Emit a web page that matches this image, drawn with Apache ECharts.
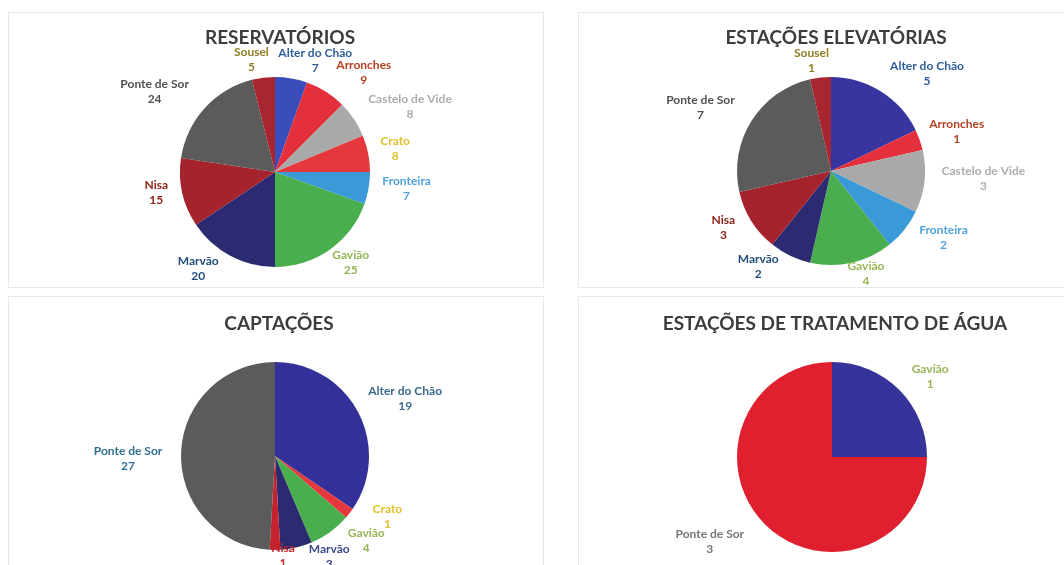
<!DOCTYPE html>
<html>
<head>
<meta charset="utf-8">
<script src="https://cdn.jsdelivr.net/npm/echarts@6/dist/echarts.min.js"></script>
<style>
  html, body { margin: 0; padding: 0; background: #ffffff; }
  #chart { width: 1064px; height: 565px; }
</style>
</head>
<body>
<div id="chart"></div>
<script>
// ---- Data: infrastructure counts per municipality ----
const resNames  = ['Alter do Chão', 'Arronches', 'Castelo de Vide', 'Crato', 'Fronteira', 'Gavião', 'Marvão', 'Nisa', 'Ponte de Sor', 'Sousel'];
const resValues = [7, 9, 8, 8, 7, 25, 20, 15, 24, 5];

const eleNames  = ['Alter do Chão', 'Arronches', 'Castelo de Vide', 'Fronteira', 'Gavião', 'Marvão', 'Nisa', 'Ponte de Sor', 'Sousel'];
const eleValues = [5, 1, 3, 2, 4, 2, 3, 7, 1];

const capNames  = ['Alter do Chão', 'Crato', 'Gavião', 'Marvão', 'Nisa', 'Ponte de Sor'];
const capValues = [19, 1, 4, 3, 1, 27];

const etaNames  = ['Gavião', 'Ponte de Sor'];
const etaValues = [1, 3];

const titles = ['RESERVATÓRIOS', 'ESTAÇÕES ELEVATÓRIAS', 'CAPTAÇÕES', 'ESTAÇÕES DE TRATAMENTO DE ÁGUA'];

// ---- Styling ----
const sliceColors = {
  'Alter do Chão': '#3a4dbb', 'Arronches': '#e3303c', 'Castelo de Vide': '#a9a9a9',
  'Crato': '#e5383d', 'Fronteira': '#3a9ad8', 'Gavião': '#4aae4e', 'Marvão': '#2c2b72',
  'Nisa': '#a5232c', 'Ponte de Sor': '#5b5b5b', 'Sousel': '#a8262f'
};
const labelColors = {
  'Alter do Chão': '#2f5f9a', 'Arronches': '#b2411f', 'Castelo de Vide': '#adadad',
  'Crato': '#e2c12a', 'Fronteira': '#4fa3dc', 'Gavião': '#98b556', 'Marvão': '#1f4e79',
  'Nisa': '#8e2416', 'Ponte de Sor': '#505050', 'Sousel': '#8f7d22'
};

// Panel geometry: pie centre / radius in px, and where each label sits relative to
// the rim point at the middle of its slice.
const panels = [
  { names: resNames, values: resValues, title: titles[0], titleX: 275, titleY: 23,
    center: [275, 172], radius: 95, colors: {},
    labelOffset: { 'Alter do Chão': [24, -18], 'Sousel': [-12, -18], 'Arronches': [38, -19],
      'Castelo de Vide': [56, -13], 'Crato': [27, -5], 'Fronteira': [38, 0], 'Gavião': [21, 13],
      'Marvão': [-32, 13], 'Nisa': [-26, 0], 'Ponte de Sor': [-50, -17] } },
  { names: eleNames, values: eleValues, title: titles[1], titleX: 831, titleY: 23,
    center: [831, 171], radius: 94, colors: { 'Alter do Chão': '#3835a0' },
    labelOffset: { 'Sousel': [-9, -17], 'Alter do Chão': [46, -18], 'Arronches': [37, -8],
      'Castelo de Vide': [59, -3], 'Fronteira': [39, 8], 'Gavião': [14, 11], 'Marvão': [-32, 11],
      'Nisa': [-28, 7], 'Ponte de Sor': [-51, -13] } },
  { names: capNames, values: capValues, title: titles[2], titleX: 274, titleY: 309,
    center: [275, 456], radius: 94, colors: { 'Alter do Chão': '#33309a', 'Nisa': '#c5222e' },
    labelColors: { 'Ponte de Sor': '#2f6f8f', 'Alter do Chão': '#3a6a8a', 'Nisa': '#c0282a', 'Marvão': '#3a4a8a' },
    labelOffset: { 'Alter do Chão': [47, -14], 'Crato': [38, 3], 'Gavião': [36, 9],
      'Marvão': [33, 9], 'Nisa': [8, 6], 'Ponte de Sor': [-53, 5] } },
  { names: etaNames, values: etaValues, title: titles[3], titleX: 830, titleY: 309,
    center: [832, 457], radius: 95, colors: { 'Gavião': '#36349a', 'Ponte de Sor': '#e01f2f' },
    labelColors: { 'Ponte de Sor': '#777777' },
    labelOffset: { 'Gavião': [31, -13], 'Ponte de Sor': [-55, 17] } }
];

const FONT = 'Lato, "Open Sans", sans-serif';

// Rim point at the middle of a slice (pie starts at 12 o'clock, clockwise)
function rimPoint(p, idx) {
  const total = p.values.reduce((a, b) => a + b, 0);
  let before = 0;
  for (let i = 0; i < idx; i++) before += p.values[i];
  const mid = (before + p.values[idx] / 2) / total * Math.PI * 2;
  return [p.center[0] + p.radius * Math.sin(mid), p.center[1] - p.radius * Math.cos(mid)];
}

const chart = echarts.init(document.getElementById('chart'), null, { renderer: 'canvas' });

const option = {
  backgroundColor: '#ffffff',
  animation: false,
  title: panels.map(p => ({
    text: p.title, left: p.titleX, top: p.titleY, textAlign: 'center',
    textStyle: { fontFamily: FONT, fontSize: 19, fontWeight: 'bold', color: '#3d3d3d' }
  })),
  graphic: [
    { type: 'rect', shape: { x: 8.5, y: 12.5, width: 535, height: 275 }, style: { fill: 'none', stroke: '#e8e8e8', lineWidth: 1 } },
    { type: 'rect', shape: { x: 578.5, y: 12.5, width: 500, height: 275 }, style: { fill: 'none', stroke: '#e8e8e8', lineWidth: 1 } },
    { type: 'rect', shape: { x: 8.5, y: 296.5, width: 535, height: 280 }, style: { fill: 'none', stroke: '#e8e8e8', lineWidth: 1 } },
    { type: 'rect', shape: { x: 578.5, y: 296.5, width: 500, height: 280 }, style: { fill: 'none', stroke: '#e8e8e8', lineWidth: 1 } }
  ],
  series: panels.map(p => ({
    type: 'pie',
    center: p.center,
    radius: p.radius,
    startAngle: 90,
    clockwise: true,
    avoidLabelOverlap: false,
    data: p.names.map((n, i) => ({
      name: n, value: p.values[i],
      itemStyle: { color: p.colors[n] || sliceColors[n] },
      label: { color: (p.labelColors && p.labelColors[n]) || labelColors[n] }
    })),
    itemStyle: { borderWidth: 0 },
    label: {
      show: true, position: 'outside',
      formatter: '{b}\n{c}',
      fontFamily: FONT, fontSize: 12, fontWeight: 'bold', lineHeight: 15,
      align: 'center'
    },
    labelLine: { show: false },
    emphasis: { disabled: true },
    labelLayout: function (params) {
      const n = p.names[params.dataIndex];
      const rim = rimPoint(p, params.dataIndex);
      const off = p.labelOffset[n] || [0, 0];
      return { x: rim[0] + off[0], y: rim[1] + off[1], align: 'center', verticalAlign: 'middle' };
    }
  }))
};

chart.setOption(option);
</script>
</body>
</html>
